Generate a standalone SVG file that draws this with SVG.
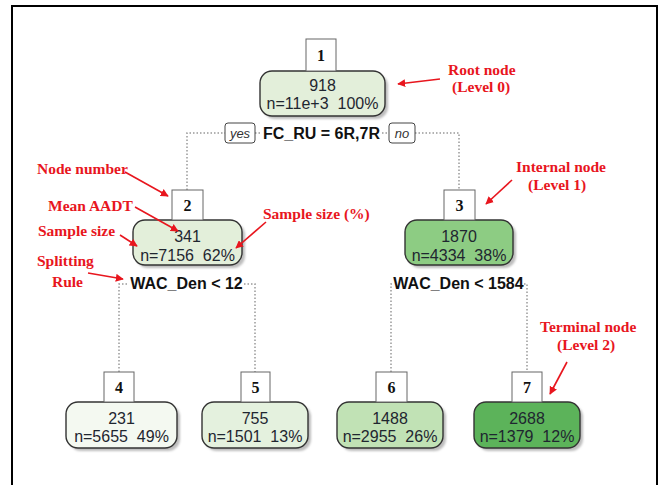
<svg xmlns="http://www.w3.org/2000/svg" width="661" height="485" viewBox="0 0 661 485">
<style>
.box{fill:#fff;stroke:#666;stroke-width:1}
.node{stroke:#333;stroke-width:1.4}
.sh{fill:#bdbdbd;filter:url(#blur)}
.num{font-family:"Liberation Serif",serif;font-weight:bold;font-size:16px;fill:#111;text-anchor:middle}
.val{font-family:"Liberation Sans",Arial,sans-serif;font-size:16px;fill:#1f2630;text-anchor:middle;white-space:pre}
.split{font-family:"Liberation Sans",Arial,sans-serif;font-weight:bold;font-size:16px;fill:#111;text-anchor:middle}
.yn{font-family:"Liberation Sans",Arial,sans-serif;font-style:italic;font-size:13px;fill:#333;text-anchor:middle}
.ann{font-family:"Liberation Serif",serif;font-weight:bold;font-size:15.5px;fill:#e8161e}
.dot{stroke:#999;stroke-width:1.5;stroke-dasharray:1.5,2;fill:none}
.arr{stroke:#e8161e;stroke-width:1.6;fill:none;marker-end:url(#ah)}
</style>
<defs>
<filter id="blur" x="-10%" y="-10%" width="130%" height="140%"><feGaussianBlur stdDeviation="1.2"/></filter>
<marker id="ah" viewBox="0 0 10 10" refX="9" refY="5" markerWidth="5" markerHeight="5" orient="auto"><path d="M0,0 L10,5 L0,10 z" fill="#e8161e"/></marker>
</defs>
<rect width="661" height="485" fill="#fff"/>
<path d="M12,490 V6 H657 V490" fill="none" stroke="#000" stroke-width="2"/>

<g id="connectors">
<path class="dot" d="M187,190 V133 H225 M255,133 H261 M382,133 H389 M415,133 H459 V190"/>
<path class="dot" d="M119,372 V284 H128 M244,284 H255 V372"/>
<path class="dot" d="M391,372 V284 H393 M524,284 H527 V372"/>
<rect x="225" y="123" width="30" height="20" rx="3" fill="#fff" stroke="#444" stroke-width="1"/>
<text class="yn" x="240" y="138">yes</text>
<text class="split" x="321.5" y="139">FC_RU = 6R,7R</text>
<rect x="389" y="123" width="26" height="20" rx="3" fill="#fff" stroke="#444" stroke-width="1"/>
<text class="yn" x="402" y="138">no</text>
<text class="split" x="186.5" y="289">WAC_Den &lt; 12</text>
<text class="split" x="458.5" y="289">WAC_Den &lt; 1584</text>
</g>

<g id="node1">
<rect class="sh" x="263" y="74" width="125" height="45" rx="12"/>
<rect class="node" x="260" y="71" width="125" height="45" rx="12" fill="#e3efda"/>
<rect class="box" x="306" y="39" width="30" height="32"/>
<text class="num" x="321" y="61">1</text>
<text class="val" x="322.5" y="91">918</text>
<text class="val" x="322.5" y="109" xml:space="preserve">n=11e+3  100%</text>
</g>

<g id="node2">
<rect class="sh" x="136" y="223" width="109" height="45" rx="12"/>
<rect class="node" x="133" y="220" width="109" height="45" rx="12" fill="#e3efda"/>
<rect class="box" x="172" y="190" width="31" height="30"/>
<text class="num" x="187.5" y="211">2</text>
<text class="val" x="187.5" y="242">341</text>
<text class="val" x="187.5" y="261" xml:space="preserve">n=7156  62%</text>
</g>

<g id="node3">
<rect class="sh" x="408" y="223" width="108" height="45" rx="12"/>
<rect class="node" x="405" y="220" width="108" height="45" rx="12" fill="#8dcc83"/>
<rect class="box" x="444" y="190" width="31" height="30"/>
<text class="num" x="459.5" y="211">3</text>
<text class="val" x="459" y="242">1870</text>
<text class="val" x="459" y="261" xml:space="preserve">n=4334  38%</text>
</g>

<g id="node4">
<rect class="sh" x="69" y="405" width="111" height="46" rx="12"/>
<rect class="node" x="66" y="402" width="111" height="46" rx="12" fill="#f4f9f1"/>
<rect class="box" x="104" y="372" width="30" height="30"/>
<text class="num" x="119" y="393">4</text>
<text class="val" x="121.5" y="424">231</text>
<text class="val" x="121.5" y="442" xml:space="preserve">n=5655  49%</text>
</g>

<g id="node5">
<rect class="sh" x="205" y="405" width="106" height="46" rx="12"/>
<rect class="node" x="202" y="402" width="106" height="46" rx="12" fill="#e4f1de"/>
<rect class="box" x="241" y="372" width="29" height="30"/>
<text class="num" x="255.5" y="393">5</text>
<text class="val" x="255" y="424">755</text>
<text class="val" x="255" y="442" xml:space="preserve">n=1501  13%</text>
</g>

<g id="node6">
<rect class="sh" x="340" y="405" width="106" height="46" rx="12"/>
<rect class="node" x="337" y="402" width="106" height="46" rx="12" fill="#c1e2b5"/>
<rect class="box" x="376" y="372" width="31" height="30"/>
<text class="num" x="391.5" y="393">6</text>
<text class="val" x="390" y="424">1488</text>
<text class="val" x="390" y="442" xml:space="preserve">n=2955  26%</text>
</g>

<g id="node7">
<rect class="sh" x="477" y="405" width="106" height="46" rx="12"/>
<rect class="node" x="474" y="402" width="106" height="46" rx="12" fill="#5cb35a"/>
<rect class="box" x="512" y="372" width="30" height="30"/>
<text class="num" x="527" y="393">7</text>
<text class="val" x="527" y="424">2688</text>
<text class="val" x="527" y="442" xml:space="preserve">n=1379  12%</text>
</g>

<g id="annotations">
<text class="ann" x="448" y="75">Root node</text>
<text class="ann" x="452" y="92">(Level 0)</text>
<path class="arr" d="M440,79 L398,84"/>
<text class="ann" x="37" y="174">Node number</text>
<path class="arr" d="M125,172 L168,196"/>
<text class="ann" x="48" y="211">Mean AADT</text>
<path class="arr" d="M135,207 L178,231"/>
<text class="ann" x="38" y="236">Sample size</text>
<path class="arr" d="M120,235 L137,246"/>
<text class="ann" x="263" y="219">Sample size (%)</text>
<path class="arr" d="M266,222 L236,248"/>
<text class="ann" x="37" y="266">Splitting</text>
<text class="ann" x="52" y="287">Rule</text>
<path class="arr" d="M88,273 L123,279"/>
<text class="ann" x="516" y="172">Internal node</text>
<text class="ann" x="528" y="190">(Level 1)</text>
<path class="arr" d="M512,180 L486,204"/>
<text class="ann" x="540" y="332">Terminal node</text>
<text class="ann" x="557" y="350">(Level 2)</text>
<path class="arr" d="M567,362 L550,394"/>
</g>
</svg>
